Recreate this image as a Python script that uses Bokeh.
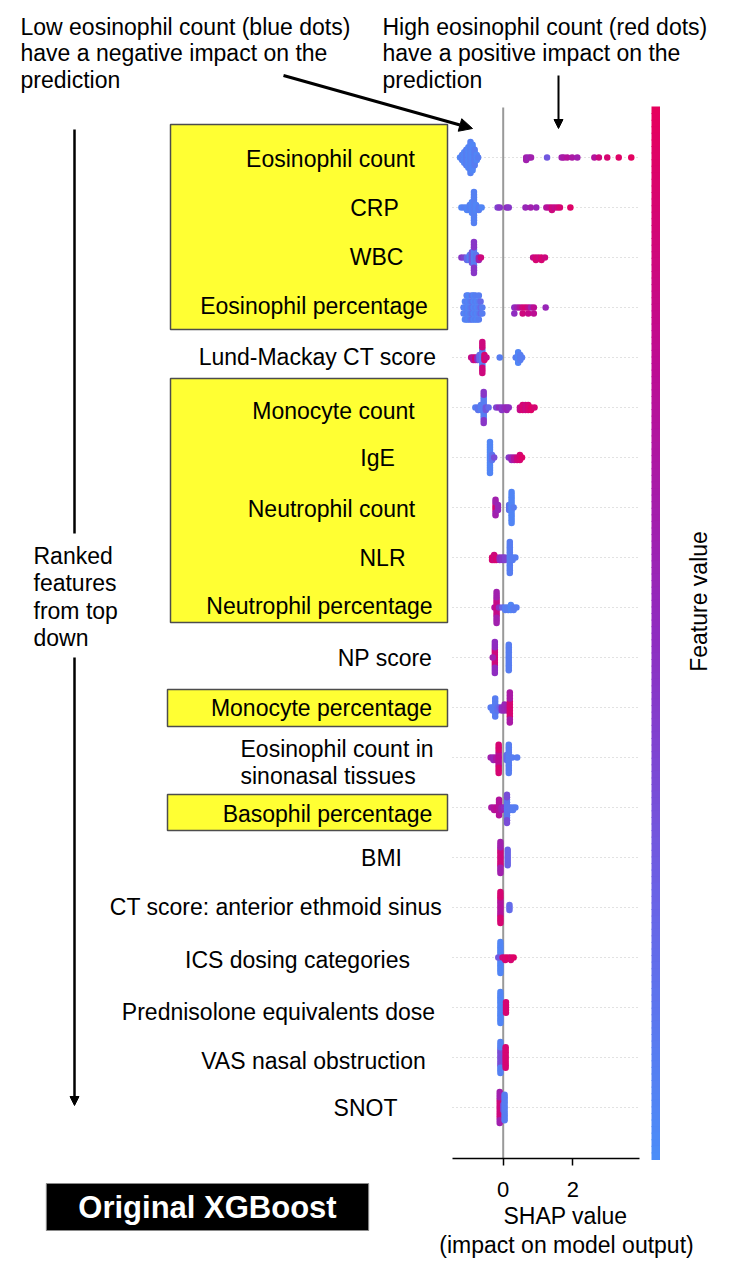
import numpy as np
from bokeh.plotting import figure
from bokeh.models import Range1d, LinearAxis, FixedTicker, Label, Arrow, NormalHead, ColumnDataSource
from bokeh.transform import linear_cmap
from bokeh.core.properties import value
from bokeh.embed import file_html
from bokeh.resources import INLINE

# ---------------- data ----------------
features = ["Eosinophil count", "CRP", "WBC", "Eosinophil percentage", "Lund-Mackay CT score",
            "Monocyte count", "IgE", "Neutrophil count", "NLR", "Neutrophil percentage",
            "NP score", "Monocyte percentage", "Eosinophil count in sinonasal tissues",
            "Basophil percentage", "BMI", "CT score: anterior ethmoid sinus",
            "ICS dosing categories", "Prednisolone equivalents dose", "VAS nasal obstruction", "SNOT"]

# each entry: (SHAP value, number of dots stacked there, feature value 0=low .. 1=high)
eos_count = [(-1.24, 1, 0.05), (-1.18, 3, 0.08), (-1.12, 5, 0.05), (-1.06, 7, 0.1), (-1.0, 9, 0.05),
             (-0.94, 13, 0.08), (-0.88, 11, 0.05), (-0.82, 7, 0.1), (-0.76, 3, 0.05), (-0.72, 1, 0.1),
             (0.66, 2, 0.6), (0.74, 1, 0.55), (0.8, 1, 0.6), (1.26, 1, 0.3), (1.68, 1, 0.6), (1.74, 1, 0.65),
             (1.84, 1, 0.7), (1.98, 1, 0.65), (2.13, 1, 0.6), (2.62, 1, 0.7), (2.75, 1, 0.85),
             (2.99, 1, 0.9), (3.32, 1, 0.95), (3.68, 1, 0.98)]
crp = [(-1.2, 1, 0.05), (-1.12, 1, 0.08), (-1.04, 2, 0.05), (-0.96, 3, 0.08), (-0.9, 5, 0.05),
       (-0.84, 13, 0.08), (-0.78, 3, 0.05), (-0.7, 2, 0.1), (-0.62, 1, 0.05),
       (-0.16, 1, 0.4), (-0.1, 1, 0.45), (0.1, 1, 0.5), (0.16, 1, 0.45), (0.64, 1, 0.55), (0.79, 1, 0.6),
       (0.95, 1, 0.55), (1.24, 1, 0.7), (1.32, 1, 0.75), (1.4, 2, 0.85), (1.48, 1, 0.8), (1.56, 1, 0.85),
       (1.63, 1, 0.9), (1.93, 1, 0.95)]
wbc = [(-1.2, 1, 0.45), (-1.12, 1, 0.4), (-1.04, 2, 0.2), (-0.96, 3, 0.1), (-0.9, 5, 0.3),
       (-0.84, 7, 0.1), (-0.84, 6, 0.45), (-0.78, 3, 0.15), (-0.7, 2, 0.6), (-0.64, 1, 0.85),
       (0.86, 1, 0.8), (0.94, 2, 0.9), (1.02, 1, 0.85), (1.1, 2, 0.9), (1.2, 1, 0.85)]
eos_pct = [(-1.14, 2, 0.1), (-1.1, 4, 0.05), (-1.05, 5, 0.1), (-1.0, 5, 0.05), (-0.95, 4, 0.1),
           (-0.9, 5, 0.15), (-0.85, 5, 0.05), (-0.8, 5, 0.1), (-0.75, 4, 0.05), (-0.7, 5, 0.1),
           (-0.65, 3, 0.2), (-0.6, 2, 0.1),
           (0.32, 2, 0.5), (0.4, 1, 0.6), (0.48, 1, 0.7), (0.56, 2, 0.85), (0.64, 1, 0.9), (0.72, 2, 0.8),
           (0.8, 1, 0.6), (0.88, 2, 0.75), (1.22, 1, 0.55)]
lund = [(-0.92, 1, 0.8), (-0.86, 2, 0.7), (-0.8, 2, 0.9), (-0.74, 2, 0.5), (-0.68, 3, 0.2),
        (-0.6, 7, 0.1), (-0.6, 6, 0.85), (-0.54, 3, 0.9), (-0.48, 1, 0.8), (-0.1, 1, 0.1),
        (0.36, 1, 0.1), (0.43, 5, 0.05), (0.49, 3, 0.1), (0.54, 1, 0.1)]
mono_count = [(-0.8, 1, 0.1), (-0.72, 2, 0.15), (-0.64, 3, 0.1), (-0.56, 9, 0.1), (-0.56, 4, 0.45),
              (-0.5, 2, 0.3), (-0.42, 1, 0.2), (-0.2, 1, 0.4), (-0.12, 1, 0.5), (-0.04, 2, 0.45),
              (0.04, 1, 0.5), (0.1, 2, 0.55), (0.16, 1, 0.5), (0.48, 2, 0.8), (0.56, 3, 0.9),
              (0.64, 3, 0.85), (0.72, 3, 0.9), (0.8, 2, 0.95), (0.9, 1, 0.9)]
ige = [(-0.38, 13, 0.05), (-0.32, 3, 0.15), (-0.26, 1, 0.35), (0.16, 1, 0.45), (0.24, 2, 0.55),
       (0.32, 2, 0.7), (0.4, 2, 0.85), (0.48, 3, 0.9), (0.54, 1, 0.95)]
neut_count = [(-0.22, 3, 0.9), (-0.22, 4, 0.6), (-0.15, 3, 0.55), (0.17, 3, 0.15), (0.24, 13, 0.05),
              (0.3, 1, 0.1)]
nlr = [(-0.32, 2, 0.9), (-0.26, 3, 0.85), (-0.2, 2, 0.9), (-0.1, 2, 0.5), (-0.02, 2, 0.45),
       (0.05, 2, 0.4), (0.19, 13, 0.1), (0.27, 2, 0.1), (0.35, 1, 0.1)]
neut_pct = [(-0.25, 1, 0.7), (-0.19, 7, 0.8), (-0.19, 6, 0.6), (-0.12, 1, 0.5), (-0.02, 1, 0.2),
            (0.06, 2, 0.1), (0.14, 2, 0.1), (0.22, 3, 0.05), (0.3, 2, 0.1), (0.38, 1, 0.1)]
np_score = [(-0.24, 7, 0.85), (-0.24, 6, 0.5), (-0.3, 1, 0.6), (0.16, 11, 0.1)]
mono_pct = [(-0.36, 1, 0.1), (-0.3, 2, 0.1), (-0.23, 7, 0.1), (-0.16, 2, 0.15), (-0.1, 1, 0.25),
            (-0.04, 2, 0.5), (0.04, 3, 0.55), (0.13, 2, 0.6), (0.19, 6, 0.9), (0.19, 5, 0.65)]
eos_tissue = [(-0.36, 1, 0.6), (-0.28, 2, 0.55), (-0.2, 2, 0.65), (-0.13, 6, 0.75), (-0.13, 6, 0.9),
              (0.1, 3, 0.2), (0.16, 12, 0.1), (0.26, 1, 0.1), (0.4, 1, 0.1)]
baso = [(-0.34, 1, 0.65), (-0.26, 2, 0.7), (-0.18, 2, 0.75), (-0.12, 7, 0.7), (-0.05, 2, 0.6),
        (0.02, 1, 0.5), (0.11, 8, 0.15), (0.11, 4, 0.35), (0.2, 2, 0.15), (0.28, 2, 0.1), (0.35, 1, 0.1)]
bmi = [(-0.08, 7, 0.85), (-0.08, 6, 0.6), (0.13, 7, 0.25)]
ct_ethmoid = [(-0.08, 7, 0.7), (-0.08, 6, 0.9), (0.18, 3, 0.2)]
ics = [(-0.08, 13, 0.05), (-0.14, 1, 0.3), (-0.02, 1, 0.85), (0.06, 2, 0.9), (0.14, 1, 0.95),
       (0.22, 2, 0.9), (0.3, 1, 0.95)]
prednisolone = [(-0.08, 13, 0.05), (0.08, 5, 0.9)]
vas = [(-0.08, 7, 0.35), (-0.08, 6, 0.08), (0.07, 9, 0.9)]
snot = [(-0.1, 8, 0.85), (-0.1, 5, 0.6), (0.0, 3, 0.4), (0.04, 11, 0.1)]

rows = [eos_count, crp, wbc, eos_pct, lund, mono_count, ige, neut_count, nlr, neut_pct,
        np_score, mono_pct, eos_tissue, baso, bmi, ct_ethmoid, ics, prednisolone, vas, snot]

tick_values = [0, 2]

# ---------------- layout ----------------
W, H = 739, 1264
ZERO_X = 502.7      # px of SHAP 0
UNIT = 34.8         # px per SHAP unit
ROW0 = 157.0        # px of first row
ROW_PX = 50.0
FONT = "Liberation Sans"


def dx(px):
    return (px - ZERO_X) / UNIT


def dy(py):
    return (py - ROW0) / ROW_PX


p = figure(width=W, height=H, output_backend="svg", toolbar_location=None,
           x_range=Range1d(dx(0), dx(W)), y_range=Range1d(dy(H), dy(0)),
           x_axis_type=None, y_axis_type=None,
           min_border_left=0, min_border_right=0, min_border_top=0, min_border_bottom=0)
p.outline_line_color = None
p.background_fill_color = "white"
p.border_fill_color = "white"

# colour map (shap red-blue style)
cstops = [0.0, 0.25, 0.5, 0.75, 1.0]
crgb = [(75, 141, 248), (106, 99, 230), (143, 44, 192), (188, 13, 148), (230, 0, 92)]
palette = []
for i in range(256):
    t = i / 255
    r = int(round(np.interp(t, cstops, [c[0] for c in crgb])))
    g = int(round(np.interp(t, cstops, [c[1] for c in crgb])))
    b = int(round(np.interp(t, cstops, [c[2] for c in crgb])))
    palette.append("#%02x%02x%02x" % (r, g, b))
cmap = linear_cmap("c", palette, 0, 1)

# yellow highlight boxes
box_l = [170, 170, 167, 167]
box_r = [447, 447, 447, 447]
box_t = [124, 378, 689, 794]
box_b = [329, 622, 726, 830]
p.quad(left=[dx(v) for v in box_l], right=[dx(v) for v in box_r],
       top=[dy(v) for v in box_t], bottom=[dy(v) for v in box_b],
       fill_color="#ffff33", line_color="#4d4d4d", line_width=1.5)

# dotted row guides
n = len(features)
p.segment(x0=[dx(452)] * n, x1=[dx(637)] * n, y0=list(range(n)), y1=list(range(n)),
          line_color="#c4c4c4", line_width=1, line_dash="1 3")
# zero line
p.segment(x0=[0], x1=[0], y0=[dy(107)], y1=[dy(1158)], line_color="#999999", line_width=2)

# beeswarm
xs, ys, cs = [], [], []
for i, clusters in enumerate(rows):
    groups, order = {}, []
    for x, cnt, c in clusters:
        key = round(x, 3)
        if key not in groups:
            groups[key] = []
            order.append(key)
        groups[key].extend([c] * cnt)
    layered = []
    for key in order:
        for k, c in enumerate(groups[key]):
            layered.append((key, np.ceil(k / 2) * (1 if k % 2 else -1), c))
    mx = max(abs(l[1]) for l in layered)
    s = 0.9 * 0.4 / (mx + 1)
    for x, l, c in layered:
        xs.append(x)
        ys.append(i + l * s)
        cs.append(c)
src = ColumnDataSource(dict(x=xs, y=ys, c=cs))
p.scatter("x", "y", source=src, size=6.5, fill_color=cmap, line_color=None)

# colour bar
NB = 160
edges = np.linspace(dy(106), dy(1158.5), NB + 1)
cb = ColumnDataSource(dict(top=edges[:-1], bottom=edges[1:] + 0.02,
                           c=[1 - (k + 0.5) / NB for k in range(NB)]))
p.quad(left=dx(651), right=dx(659.5), top="top", bottom="bottom", source=cb,
       fill_color=cmap, line_color=None)

# feature labels
label_x = [330, 374, 376, 313.5, 317, 333, 377, 331, 382, 319, 384.5, 321, None, 327, 381, 275.5, 297, 278, 313, 365]
label_y = [158, 207, 256, 305, 356, 410, 457, 508, 557, 605, 657, 707, None, 813, 857, 906, 959, 1011, 1060, 1107]
idx = [k for k in range(n) if label_x[k] is not None]
p.text(x=[dx(label_x[k]) for k in idx], y=[dy(label_y[k]) for k in idx], text=[features[k] for k in idx],
       text_align="center", text_baseline="middle", text_font=value(FONT), text_font_size="23px",
       text_color="black")
# two-line label
tissue_lines = ["Eosinophil count in", "sinonasal tissues"]
p.text(x=[dx(240), dx(240)], y=[dy(748), dy(775)], text=tissue_lines,
       text_align="left", text_baseline="middle", text_font=value(FONT), text_font_size="23px",
       text_color="black")

# top annotations
left_note = ["Low eosinophil count (blue dots)", "have a negative impact on the", "prediction"]
right_note = ["High eosinophil count (red dots)", "have a positive impact on the", "prediction"]
note_y = [26, 52, 79]
p.text(x=[dx(20)] * 3, y=[dy(v) for v in note_y], text=left_note, text_align="left",
       text_baseline="middle", text_font=value(FONT), text_font_size="23px", text_color="black")
p.text(x=[dx(382)] * 3, y=[dy(v) for v in note_y], text=right_note, text_align="left",
       text_baseline="middle", text_font=value(FONT), text_font_size="23px", text_color="black")

# ranked features note
ranked = ["Ranked", "features", "from top", "down"]
p.text(x=[dx(33)] * 4, y=[dy(v) for v in [555, 582, 610, 637]], text=ranked, text_align="left",
       text_baseline="middle", text_font=value(FONT), text_font_size="23px", text_color="black")

# arrows
p.add_layout(Arrow(end=NormalHead(size=13, fill_color="black", line_color="black"),
                   x_start=dx(283), y_start=dy(75), x_end=dx(472), y_end=dy(128),
                   line_width=3, line_color="black"))
p.add_layout(Arrow(end=NormalHead(size=9, fill_color="black", line_color="black"),
                   x_start=dx(558), y_start=dy(75), x_end=dx(558), y_end=dy(128),
                   line_width=2, line_color="black"))
p.segment(x0=[dx(74)], x1=[dx(74)], y0=[dy(129)], y1=[dy(533)], line_color="black", line_width=2.5)
p.add_layout(Arrow(end=NormalHead(size=9, fill_color="black", line_color="black"),
                   x_start=dx(74), y_start=dy(657), x_end=dx(74), y_end=dy(1105),
                   line_width=2.5, line_color="black"))

# colour bar label
p.add_layout(Label(x=dx(698), y=dy(601), text="Feature value", angle=np.pi / 2,
                   text_align="center", text_baseline="middle", text_font=FONT,
                   text_font_size="23px", text_color="black"))

# x axis, drawn at a fixed location inside the frame
ax = LinearAxis(ticker=FixedTicker(ticks=tick_values), bounds=(dx(452), dx(639)),
                fixed_location=dy(1158))
ax.axis_line_color = "black"
ax.axis_line_width = 1.5
ax.major_tick_line_width = 1.5
ax.major_tick_out = 7
ax.major_tick_in = 0
ax.minor_tick_line_color = None
ax.major_label_text_font = FONT
ax.major_label_text_font_size = "22px"
ax.major_label_text_color = "black"
ax.major_label_standoff = 16
p.add_layout(ax, "below")

p.add_layout(Label(x=dx(565), y=dy(1215), text="SHAP value", text_align="center",
                   text_baseline="middle", text_font=FONT, text_font_size="23px", text_color="black"))
p.add_layout(Label(x=dx(566), y=dy(1244), text="(impact on model output)", text_align="center",
                   text_baseline="middle", text_font=FONT, text_font_size="23px", text_color="black"))

p.add_layout(Label(x=dx(207), y=dy(1206.5), text="Original XGBoost", text_align="center",
                   text_baseline="middle", text_font=FONT, text_font_size="31px",
                   text_font_style="bold", text_color="white",
                   background_fill_color="black", border_line_color="#8a8a8a", border_line_width=1,
                   padding=dict(left=32, right=32, top=6, bottom=6)))

open("out.html", "w").write(file_html(p, INLINE))
